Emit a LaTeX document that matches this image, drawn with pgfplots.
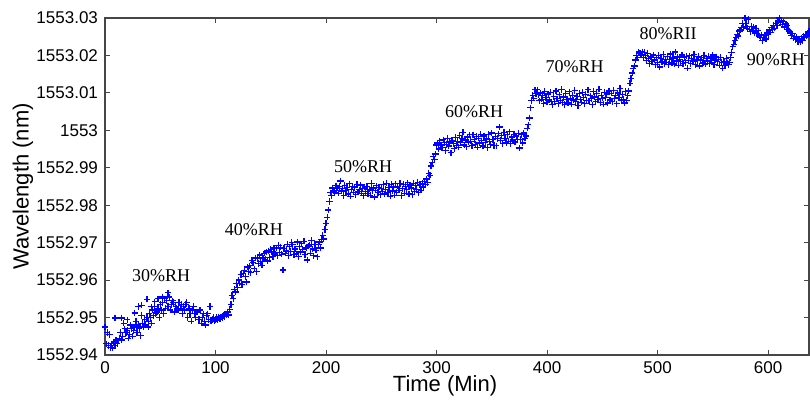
\documentclass[border=0pt]{standalone}
\usepackage{pgfplots}
\pgfplotsset{compat=1.18}
\usepackage{fontspec}
\setmainfont{Liberation Sans}
\newfontfamily\annfont{Liberation Serif}
\makeatletter
\newdimen\wlD
\def\wltrafo#1{\wlD=#1pt\relax\advance\wlD by -1552.94pt\relax\multiply\wlD by 1000\relax\edef\pgfmathresult{\strip@pt\wlD}}
\makeatother
\definecolor{axgray}{RGB}{70,70,70}
\definecolor{ptblue}{RGB}{0,0,255}
\pgfplotsset{ptstyle/.style={only marks, mark=+, mark size=1.6pt, color=ptblue, mark options={solid, draw=ptblue, line width=0.6pt}}}
\begin{document}
\begin{tikzpicture}
\begin{axis}[
 scale only axis, width=352pt, height=168.5pt,
 xmin=0, xmax=637, ymin=1552.94, ymax=1553.03,
 y coord trafo/.code={\wltrafo{#1}},
 xtick={0,100,200,300,400,500,600},
 ytick={1552.94,1552.95,1552.96,1552.97,1552.98,1552.99,1553,1553.01,1553.02,1553.03},
 yticklabels={1552.94,1552.95,1552.96,1552.97,1552.98,1552.99,1553,1553.01,1553.02,1553.03},
 tick align=inside, major tick length=2.5pt, tick pos=both,
 axis line style={axgray, line width=0.6pt}, tick style={axgray, line width=0.5pt},
 ticklabel style={font=\fontsize{8.5}{10}\selectfont},
 /pgf/number format/assume math mode=true,
 xlabel={Time (Min)}, ylabel={Wavelength (nm)},
 label style={font=\fontsize{11}{13}\selectfont},
 xlabel style={at={(axis description cs:0.483,-0.092)}, anchor=center},
 ylabel style={at={(axis description cs:-0.1165,0.5)}, anchor=center},
]
\addplot[ptstyle] table {
x y
0 1552.9475
1 1552.943
2 1552.946
3 1552.9425
4 1552.9455
5 1552.942
6 1552.943
7 1552.9418
8 1552.9435
9 1552.9425
10 1552.944
11 1552.943
12 1552.9438
13 1552.9445
14 1552.946
15 1552.944
16 1552.945
17 1552.9485
18 1552.947
19 1552.946
20 1552.9465
21 1552.9445
22 1552.9455
23 1552.948
24 1552.947
25 1552.945
26 1552.9465
27 1552.9475
28 1552.949
29 1552.946
30 1552.948
31 1552.947
32 1552.9452
33 1552.9505
34 1552.9485
35 1552.9475
36 1552.9495
37 1552.948
38 1552.950
39 1552.949
40 1552.951
41 1552.950
42 1552.9485
43 1552.952
44 1552.9505
45 1552.953
46 1552.951
47 1552.9515
48 1552.9525
49 1552.950
50 1552.9535
51 1552.952
52 1552.954
53 1552.951
54 1552.955
55 1552.9525
56 1552.9545
57 1552.953
58 1552.9555
59 1552.952
60 1552.9535
61 1552.9545
62 1552.954
63 1552.9515
64 1552.953
65 1552.9525
66 1552.952
67 1552.954
68 1552.9525
69 1552.9535
70 1552.951
71 1552.953
72 1552.952
73 1552.9535
74 1552.954
75 1552.950
76 1552.9525
77 1552.951
78 1552.949
79 1552.952
80 1552.953
81 1552.951
82 1552.950
83 1552.9515
84 1552.9515
85 1552.9495
86 1552.952
87 1552.9485
88 1552.950
89 1552.951
90 1552.949
91 1552.948
92 1552.9505
93 1552.951
94 1552.9495
95 1552.953
96 1552.949
97 1552.9495
98 1552.950
99 1552.949
100 1552.9495
101 1552.950
102 1552.9495
103 1552.950
104 1552.9498
105 1552.9502
106 1552.950
107 1552.9505
108 1552.9503
109 1552.951
110 1552.9508
111 1552.9515
112 1552.9507
};
\addplot[ptstyle] table {
x y
9 1552.9499
15 1552.9499
30 1552.953
33 1552.9533
38 1552.9549
48 1552.955
52 1552.9555
57 1552.9566
39 1552.9475
45 1552.9542
42 1552.9529
27 1552.9512
20 1552.9494
};
\addplot[ptstyle] table {
x y
113 1552.9522
114 1552.9535
115 1552.956
116 1552.955
117 1552.9575
118 1552.9568
119 1552.959
120 1552.958
121 1552.960
122 1552.9592
123 1552.9615
124 1552.9588
125 1552.9618
126 1552.9625
127 1552.961
128 1552.9595
129 1552.9635
130 1552.9623
131 1552.9638
132 1552.962
133 1552.9652
134 1552.9646
135 1552.963
136 1552.9659
137 1552.9622
138 1552.9658
139 1552.9644
140 1552.9667
141 1552.965
142 1552.964
143 1552.9659
144 1552.9672
145 1552.9656
146 1552.9675
147 1552.9651
148 1552.9678
149 1552.966
150 1552.9682
151 1552.9675
152 1552.9662
153 1552.9686
154 1552.967
155 1552.9686
156 1552.9665
157 1552.9692
158 1552.9674
159 1552.9688
160 1552.9669
161 1552.9627
162 1552.9684
163 1552.9672
164 1552.968
165 1552.9696
166 1552.9666
167 1552.9689
168 1552.9676
169 1552.970
170 1552.9694
171 1552.9668
172 1552.9683
173 1552.967
174 1552.9702
175 1552.9662
176 1552.9689
177 1552.9675
178 1552.9697
179 1552.9681
180 1552.9704
181 1552.9668
182 1552.9686
183 1552.9654
184 1552.9691
185 1552.9694
186 1552.9672
187 1552.9706
188 1552.9683
189 1552.9665
190 1552.9695
191 1552.968
192 1552.9662
193 1552.9694
194 1552.9702
195 1552.9686
196 1552.9708
197 1552.972
198 1552.971
199 1552.9735
200 1552.9752
201 1552.9768
202 1552.9787
203 1552.981
204 1552.9833
205 1552.9825
206 1552.9846
207 1552.9838
208 1552.9835
209 1552.9852
210 1552.9846
};
\addplot[ptstyle] table {
x y
211 1552.9832
212 1552.985
213 1552.9865
214 1552.9838
215 1552.9844
216 1552.9826
217 1552.9853
218 1552.9839
219 1552.9848
220 1552.983
221 1552.9857
222 1552.9824
223 1552.9842
224 1552.9851
225 1552.9835
226 1552.9847
227 1552.9828
228 1552.9856
229 1552.9836
230 1552.9841
231 1552.9854
232 1552.9832
233 1552.9845
234 1552.9825
235 1552.9849
236 1552.9837
237 1552.985
238 1552.9831
239 1552.9843
240 1552.9827
241 1552.9858
242 1552.9839
243 1552.9846
244 1552.9822
245 1552.984
246 1552.9852
247 1552.9834
248 1552.9848
249 1552.9829
250 1552.9845
251 1552.9836
252 1552.9855
253 1552.983
254 1552.9842
255 1552.9859
256 1552.9833
257 1552.9847
258 1552.9824
259 1552.9856
260 1552.9838
261 1552.9849
262 1552.9827
263 1552.9857
264 1552.9835
265 1552.9851
266 1552.984
267 1552.9858
268 1552.9826
269 1552.9844
270 1552.9856
271 1552.9832
272 1552.985
273 1552.9841
274 1552.986
275 1552.983
276 1552.9854
277 1552.9846
278 1552.9828
279 1552.9859
280 1552.9837
281 1552.9852
282 1552.9843
283 1552.9861
284 1552.9834
285 1552.9855
286 1552.984
287 1552.9858
288 1552.9849
289 1552.9864
290 1552.9856
291 1552.987
292 1552.986
293 1552.9885
294 1552.988
295 1552.9905
296 1552.9915
297 1552.993
298 1552.9923
299 1552.9937
300 1552.9961
301 1552.9966
302 1552.995
303 1552.9972
304 1552.996
};
\addplot[ptstyle] table {
x y
305 1552.9954
306 1552.9975
307 1552.9968
308 1552.9946
309 1552.9962
310 1552.9979
311 1552.9958
312 1552.9969
313 1552.994
314 1552.9973
315 1552.9964
316 1552.9952
317 1552.9981
318 1552.996
319 1552.997
320 1552.9955
321 1552.9986
322 1552.9967
323 1552.9978
324 1552.9995
325 1552.9961
326 1552.9974
327 1552.9956
328 1552.9982
329 1552.9969
330 1552.9988
331 1552.9971
332 1552.9959
333 1552.9988
334 1552.9975
335 1552.9963
336 1552.9984
337 1552.9955
338 1552.9979
339 1552.9966
340 1552.999
341 1552.9972
342 1552.9958
343 1552.9985
344 1552.9968
345 1552.9977
346 1552.9954
347 1552.9989
348 1552.997
349 1552.9962
350 1552.9993
351 1552.9976
352 1552.996
353 1552.9983
354 1552.9959
355 1552.9978
356 1552.9991
357 1553.0009
358 1552.9973
359 1552.9986
360 1552.9964
361 1552.9994
362 1552.9979
363 1552.9967
364 1552.9989
365 1552.9971
366 1552.9996
367 1552.9965
368 1552.9982
369 1552.9974
370 1552.999
371 1552.9969
372 1552.9985
373 1552.9976
374 1552.9992
375 1552.9953
376 1552.9976
377 1552.9988
378 1552.9966
379 1552.9993
380 1552.9979
381 1552.9985
382 1553.0006
383 1553.0015
384 1553.0033
385 1553.006
386 1553.008
387 1553.0094
388 1553.0086
389 1553.0108
390 1553.0098
};
\addplot[ptstyle] table {
x y
391 1553.0108
392 1553.0095
393 1553.0079
394 1553.010
395 1553.0083
396 1553.0092
397 1553.0072
398 1553.0104
399 1553.0088
400 1553.0075
401 1553.0097
402 1553.0081
403 1553.0102
404 1553.0076
405 1553.0068
406 1553.009
407 1553.0078
408 1553.0105
409 1553.0084
410 1553.0071
411 1553.0095
412 1553.008
413 1553.0109
414 1553.0074
415 1553.0089
416 1553.0069
417 1553.0098
418 1553.0082
419 1553.0073
420 1553.0103
421 1553.0086
422 1553.007
423 1553.0094
424 1553.0081
425 1553.0106
426 1553.0077
427 1553.0091
428 1553.0066
429 1553.0099
430 1553.0083
431 1553.0075
432 1553.0101
433 1553.0087
434 1553.0072
435 1553.0096
436 1553.008
437 1553.0108
438 1553.0079
439 1553.0092
440 1553.0084
441 1553.0068
442 1553.0104
443 1553.0089
444 1553.0076
445 1553.0098
446 1553.0082
447 1553.011
448 1553.0074
449 1553.0093
450 1553.0086
451 1553.007
452 1553.0102
453 1553.0088
454 1553.0097
455 1553.0073
456 1553.0105
457 1553.0081
458 1553.0099
459 1553.0077
460 1553.0107
461 1553.0085
462 1553.0094
463 1553.0071
464 1553.010
465 1553.0088
466 1553.0112
467 1553.0079
468 1553.0095
469 1553.0082
470 1553.0073
471 1553.0104
472 1553.008
473 1553.0092
474 1553.0105
475 1553.0126
476 1553.0138
477 1553.0153
478 1553.0165
479 1553.0172
480 1553.0188
481 1553.020
482 1553.0194
483 1553.0209
484 1553.0206
};
\addplot[ptstyle] table {
x y
485 1553.0202
486 1553.021
487 1553.0195
488 1553.0208
489 1553.0199
490 1553.0186
491 1553.0205
492 1553.0192
493 1553.0178
494 1553.0196
495 1553.0183
496 1553.0201
497 1553.0188
498 1553.0175
499 1553.0194
500 1553.0181
501 1553.020
502 1553.0169
503 1553.0191
504 1553.0184
505 1553.0203
506 1553.0179
507 1553.019
508 1553.0182
509 1553.0197
510 1553.0176
511 1553.0189
512 1553.0204
513 1553.018
514 1553.0193
515 1553.0177
516 1553.0209
517 1553.0185
518 1553.0196
519 1553.0174
520 1553.019
521 1553.0183
522 1553.0201
523 1553.0179
524 1553.0195
525 1553.0181
526 1553.0198
527 1553.0166
528 1553.0187
529 1553.0199
530 1553.0178
531 1553.0192
532 1553.0184
533 1553.0202
534 1553.0176
535 1553.019
536 1553.0186
537 1553.0197
538 1553.0172
539 1553.0189
540 1553.0194
541 1553.018
542 1553.020
543 1553.0177
544 1553.0191
545 1553.0185
546 1553.0198
547 1553.0179
548 1553.0193
549 1553.0182
550 1553.0201
551 1553.0175
552 1553.0188
553 1553.0196
554 1553.0183
555 1553.019
556 1553.0174
557 1553.0195
558 1553.0181
559 1553.0166
560 1553.0184
561 1553.0173
562 1553.0192
563 1553.018
564 1553.0176
565 1553.0182
566 1553.0195
567 1553.0208
568 1553.0223
569 1553.023
570 1553.024
571 1553.0248
572 1553.0256
573 1553.0252
574 1553.0265
575 1553.0268
576 1553.0274
577 1553.0286
578 1553.0276
579 1553.030
580 1553.0285
581 1553.0273
582 1553.0296
};
\addplot[ptstyle] table {
x y
583 1553.027
584 1553.0263
585 1553.0278
586 1553.0267
587 1553.0275
588 1553.026
589 1553.0272
590 1553.0259
591 1553.0266
592 1553.0252
593 1553.0248
594 1553.0255
595 1553.024
596 1553.0247
597 1553.0253
598 1553.0244
599 1553.026
600 1553.0256
601 1553.0268
602 1553.0262
603 1553.0274
604 1553.0269
605 1553.028
606 1553.0273
607 1553.0286
608 1553.028
609 1553.0292
610 1553.030
611 1553.0287
612 1553.0294
613 1553.0283
614 1553.029
615 1553.0276
616 1553.0284
617 1553.028
618 1553.027
619 1553.0265
620 1553.026
621 1553.0253
622 1553.0258
623 1553.0246
624 1553.025
625 1553.0242
626 1553.0248
627 1553.0237
628 1553.0243
629 1553.0236
630 1553.0245
631 1553.024
632 1553.0251
633 1553.0247
634 1553.0256
635 1553.0252
636 1553.026
637 1553.0264
};
\node[font=\annfont\fontsize{9}{11}\selectfont] at (axis cs:50.7,1552.9611) {30\%RH};
\node[font=\annfont\fontsize{9}{11}\selectfont] at (axis cs:134.8,1552.9734) {40\%RH};
\node[font=\annfont\fontsize{9}{11}\selectfont] at (axis cs:233.5,1552.9902) {50\%RH};
\node[font=\annfont\fontsize{9}{11}\selectfont] at (axis cs:334,1553.0049) {60\%RH};
\node[font=\annfont\fontsize{9}{11}\selectfont] at (axis cs:425,1553.0169) {70\%RH};
\node[font=\annfont\fontsize{9}{11}\selectfont] at (axis cs:509.5,1553.0257) {80\%RII};
\node[font=\annfont\fontsize{9}{11}\selectfont] at (axis cs:607,1553.019) {90\%RH};
\end{axis}
\pgfresetboundingbox
\path ([xshift=-52.5pt,yshift=-23pt]current axis.south west) rectangle ([xshift=0.5pt,yshift=9pt]current axis.north east);
\end{tikzpicture}
\end{document}
